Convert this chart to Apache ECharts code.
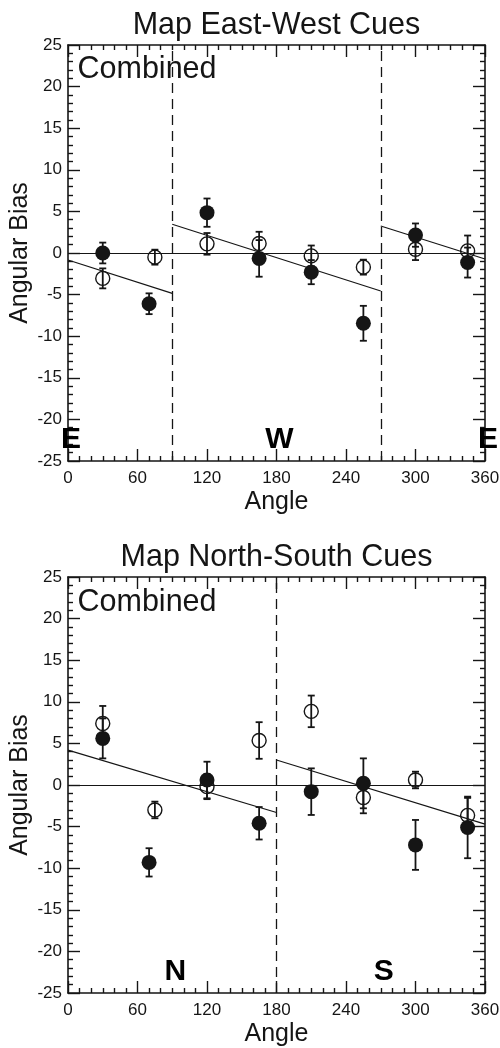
<!DOCTYPE html>
<html><head><meta charset="utf-8">
<script src="https://cdn.jsdelivr.net/npm/echarts@6/dist/echarts.min.js"></script>
<style>html,body{margin:0;padding:0;background:#fff}#c{width:500px;height:1048px}</style>
</head><body><div id="c"></div>
<script>
// ---- Data: Map East-West Cues ----
const ewFilledAngle = [30, 70, 120, 165, 210, 255, 300, 345];
const ewFilled      = [0.0, -6.1, 4.85, -0.65, -2.3, -8.45, 2.15, -1.15];
const ewFilledErr   = [1.25, 1.25, 1.7, 2.2, 1.45, 2.1, 1.4, 1.8];
const ewOpenAngle   = [30, 75, 120, 165, 210, 255, 300, 345];
const ewOpen        = [-3.05, -0.5, 1.1, 1.15, -0.35, -1.7, 0.45, 0.25];
const ewOpenErr     = [1.2, 0.9, 1.3, 1.4, 1.25, 0.9, 1.3, 1.85];
const ewFitStart    = [[0, -0.84], [90, 3.45], [270, 3.25]];
const ewFitEnd      = [[90, -4.85], [270, -4.57], [360, -0.72]];
const ewBounds      = [90, 270];
const ewDirAngle    = [0, 180, 360];
const ewDirText     = ['E', 'W', 'E'];

// ---- Data: Map North-South Cues ----
const nsFilledAngle = [30, 70, 120, 165, 210, 255, 300, 345];
const nsFilled      = [5.6, -9.3, 0.6, -4.6, -0.8, 0.2, -7.2, -5.1];
const nsFilledErr   = [2.4, 1.7, 2.2, 1.95, 2.8, 3.0, 3.0, 3.7];
const nsOpenAngle   = [30, 75, 120, 165, 210, 255, 300, 345];
const nsOpen        = [7.4, -3.0, -0.2, 5.35, 8.85, -1.5, 0.6, -3.65];
const nsOpenErr     = [2.1, 1.0, 1.5, 2.2, 1.9, 1.9, 1.0, 2.1];
const nsFitStart    = [[0, 4.2], [180, 3.0]];
const nsFitEnd      = [[180, -3.3], [360, -4.7]];
const nsBounds      = [180];
const nsDirAngle    = [90, 270];
const nsDirText     = ['N', 'S'];

const dirLabelY = -22.5;
const titles = ['Map East-West Cues', 'Map North-South Cues'];
const subTitle = 'Combined';
const xName = 'Angle', yName = 'Angular Bias';

const FONT = '"Liberation Sans", Arial, Helvetica, sans-serif';
const INK = '#151515';

const chart = echarts.init(document.getElementById('c'), null, {renderer: 'canvas'});

const grids = [
  {left: 68, width: 417, top: 45, height: 416, outerBoundsMode: 'none', containLabel: false},
  {left: 68, width: 417, top: 577, height: 416, outerBoundsMode: 'none', containLabel: false}
];

function xAxisFor(gi, pos) {
  const main = pos === 'bottom';
  return {
    type: 'value', gridIndex: gi, position: pos, min: 0, max: 360, interval: 60,
    axisLine: {show: true, onZero: false, lineStyle: {color: INK, width: 1.6}},
    axisTick: {show: true, inside: true, length: 12, lineStyle: {color: INK, width: 1.4}},
    minorTick: {show: true, splitNumber: 6, length: 5, lineStyle: {color: INK, width: 1.4}},
    splitLine: {show: false},
    axisLabel: {show: main, fontSize: 17, color: INK, fontFamily: FONT, margin: 9},
    name: main ? xName : '', nameLocation: 'middle', nameGap: 29, nameMoveOverlap: false,
    nameTextStyle: {fontSize: 25, color: INK, fontFamily: FONT}
  };
}
function yAxisFor(gi, pos) {
  const main = pos === 'left';
  return {
    type: 'value', gridIndex: gi, position: pos, min: -25, max: 25, interval: 5,
    axisLine: {show: true, onZero: false, lineStyle: {color: INK, width: 1.6}},
    axisTick: {show: true, inside: true, length: 12, lineStyle: {color: INK, width: 1.4}},
    minorTick: {show: true, splitNumber: 5, length: 5, lineStyle: {color: INK, width: 1.4}},
    splitLine: {show: false},
    axisLabel: {show: main, fontSize: 17, color: INK, fontFamily: FONT, margin: 6},
    name: main ? yName : '', nameLocation: 'middle', nameGap: 35, nameRotate: 90, nameMoveOverlap: false,
    nameTextStyle: {fontSize: 25, color: INK, fontFamily: FONT}
  };
}

function errRender(params, api) {
  const x = api.value(0), y = api.value(1), e = api.value(2);
  const t = api.coord([x, y + e]), b = api.coord([x, y - e]);
  const hw = 3.5;
  const st = {stroke: INK, lineWidth: 1.8};
  return {type: 'group', children: [
    {type: 'line', shape: {x1: t[0], y1: t[1], x2: b[0], y2: b[1]}, style: st},
    {type: 'line', shape: {x1: t[0] - hw, y1: t[1], x2: t[0] + hw, y2: t[1]}, style: st},
    {type: 'line', shape: {x1: b[0] - hw, y1: b[1], x2: b[0] + hw, y2: b[1]}, style: st}
  ]};
}

function panelSeries(gi, d) {
  const xi = gi * 2, yi = gi * 2;
  const s = [];
  d.fitStart.forEach((p, i) => {
    const ser = {
      type: 'line', xAxisIndex: xi, yAxisIndex: yi, data: [p, d.fitEnd[i]],
      symbol: 'none', lineStyle: {color: INK, width: 1.2}, silent: true, z: 2
    };
    if (i === 0) {
      ser.markLine = {
        silent: true, symbol: ['none', 'none'], label: {show: false},
        data: [
          {yAxis: 0, lineStyle: {color: INK, width: 1.2, type: 'solid'}}
        ].concat(d.bounds.map(v => ({xAxis: v, lineStyle: {color: INK, width: 1.3, type: [10, 6]}})))
      };
    }
    s.push(ser);
  });
  s.push({type: 'custom', xAxisIndex: xi, yAxisIndex: yi, renderItem: errRender,
    encode: {x: 0, y: 1}, data: d.fx.map((x, i) => [x, d.fy[i], d.fe[i]]), z: 3, silent: true});
  s.push({type: 'custom', xAxisIndex: xi, yAxisIndex: yi, renderItem: errRender,
    encode: {x: 0, y: 1}, data: d.ox.map((x, i) => [x, d.oy[i], d.oe[i]]), z: 3, silent: true});
  s.push({type: 'scatter', xAxisIndex: xi, yAxisIndex: yi, symbol: 'circle', symbolSize: 15,
    itemStyle: {color: INK, opacity: 1}, data: d.fx.map((x, i) => [x, d.fy[i]]), z: 4, silent: true});
  s.push({type: 'scatter', xAxisIndex: xi, yAxisIndex: yi, symbol: 'circle', symbolSize: 14,
    itemStyle: {color: 'rgba(0,0,0,0)', borderColor: INK, borderWidth: 1.4, opacity: 1},
    data: d.ox.map((x, i) => [x, d.oy[i]]), z: 5, silent: true});
  s.push({type: 'scatter', xAxisIndex: xi, yAxisIndex: yi, symbolSize: 0, silent: true, z: 6,
    itemStyle: {opacity: 1, color: INK},
    data: d.dirX.map((x, i) => ({value: [x, dirLabelY], name: d.dirT[i]})),
    label: {show: true, position: 'inside', formatter: '{b}', fontSize: 30, fontWeight: 'bold',
      color: '#000', opacity: 1, fontFamily: FONT, offset: [3, 0]}});
  return s;
}

const option = {
  animation: false,
  backgroundColor: '#fff',
  title: [
    {text: titles[0], left: 276.5, top: 10, textAlign: 'center', padding: 0,
      textStyle: {fontSize: 30.5, fontWeight: 'normal', color: INK, fontFamily: FONT}},
    {text: subTitle, left: 77.5, top: 54, padding: 0,
      textStyle: {fontSize: 30.5, fontWeight: 'normal', color: INK, fontFamily: FONT}},
    {text: titles[1], left: 276.5, top: 542, textAlign: 'center', padding: 0,
      textStyle: {fontSize: 30.5, fontWeight: 'normal', color: INK, fontFamily: FONT}},
    {text: subTitle, left: 77.5, top: 587, padding: 0,
      textStyle: {fontSize: 30.5, fontWeight: 'normal', color: INK, fontFamily: FONT}}
  ],
  grid: grids,
  xAxis: [xAxisFor(0, 'bottom'), xAxisFor(0, 'top'), xAxisFor(1, 'bottom'), xAxisFor(1, 'top')],
  yAxis: [yAxisFor(0, 'left'), yAxisFor(0, 'right'), yAxisFor(1, 'left'), yAxisFor(1, 'right')],
  series: [].concat(
    panelSeries(0, {fx: ewFilledAngle, fy: ewFilled, fe: ewFilledErr, ox: ewOpenAngle, oy: ewOpen, oe: ewOpenErr,
      fitStart: ewFitStart, fitEnd: ewFitEnd, bounds: ewBounds, dirX: ewDirAngle, dirT: ewDirText}),
    panelSeries(1, {fx: nsFilledAngle, fy: nsFilled, fe: nsFilledErr, ox: nsOpenAngle, oy: nsOpen, oe: nsOpenErr,
      fitStart: nsFitStart, fitEnd: nsFitEnd, bounds: nsBounds, dirX: nsDirAngle, dirT: nsDirText})
  )
};
chart.setOption(option);
</script>
</body></html>
